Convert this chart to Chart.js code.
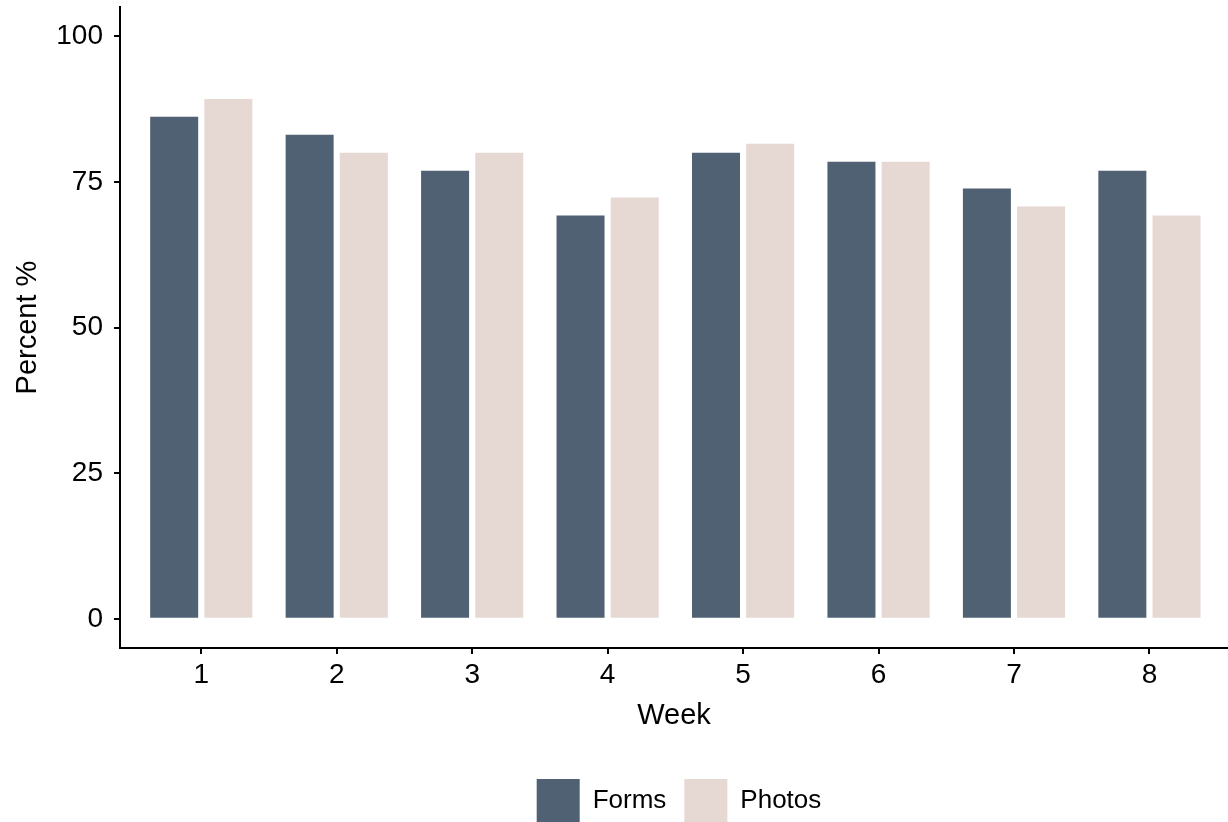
<!DOCTYPE html>
<html>
<head>
<meta charset="utf-8">
<script src="https://cdn.jsdelivr.net/npm/chart.js@4/dist/chart.umd.min.js"></script>
<style>
  html, body { margin: 0; padding: 0; background: #fff; }
  canvas { display: block; }
</style>
</head>
<body>
<canvas id="weekChart" width="1228" height="822"></canvas>
<script>
// weeks on the x axis and percent per series
const weeks = [1, 2, 3, 4, 5, 6, 7, 8];
const forms = [86.15, 83.08, 76.92, 69.23, 80.00, 78.46, 73.85, 76.92];
const photos = [89.23, 80.00, 80.00, 72.31, 81.54, 78.46, 70.77, 69.23];
const yTicks = [0, 25, 50, 75, 100];

const FONT = '"Liberation Sans", Arial, Helvetica, sans-serif';

// ggplot centres the legend under the panel, not the whole canvas
const shiftLegend = {
    id: 'shiftLegend',
    afterLayout(chart) {
        const lg = chart.legend;
        if (!lg) return;
        lg.left += 65;
        lg.right += 65;
    }
};

const ctx = document.getElementById('weekChart').getContext('2d');
new Chart(ctx, {
    type: 'bar',
    data: {
        datasets: [{
            label: 'Forms',
            data: weeks.map((w, i) => ({ x: w, y: forms[i] })),
            backgroundColor: '#4F6172'
        }, {
            label: 'Photos',
            data: weeks.map((w, i) => ({ x: w, y: photos[i] })),
            backgroundColor: '#E6D8D3'
        }]
    },
    plugins: [shiftLegend],
    options: {
        responsive: false,
        animation: false,
        devicePixelRatio: 1,
        categoryPercentage: 0.8,
        barPercentage: 0.886,
        layout: { padding: { left: 0, right: 0, top: 7, bottom: -10 } },
        plugins: {
            tooltip: { enabled: false },
            legend: {
                position: 'bottom',
                labels: {
                    boxWidth: 43,
                    boxHeight: 43,
                    padding: 18,
                    color: '#000',
                    font: { family: FONT, size: 26 }
                }
            }
        },
        scales: {
            x: {
                type: 'linear',
                offset: false,
                min: 0.4,
                max: 8.58,
                afterBuildTicks: s => { s.ticks = weeks.map(v => ({ value: v })); },
                afterFit: s => { s.height = 113; s.paddingLeft = 0; s.paddingRight = 0; },
                grid: { display: true, offset: false, drawOnChartArea: false, drawTicks: true, tickLength: 6, color: '#000', lineWidth: 2 },
                border: { display: true, color: '#000', width: 2 },
                ticks: { color: '#000', padding: 4, font: { family: FONT, size: 28 }, maxRotation: 0 },
                title: { display: true, text: 'Week', color: '#000', font: { family: FONT, size: 29 }, padding: { top: 0, bottom: 28 } }
            },
            y: {
                min: -5,
                max: 105,
                afterBuildTicks: s => { s.ticks = yTicks.map(v => ({ value: v })); },
                afterFit: s => { s.width = 120; s.paddingTop = 0; s.paddingBottom = 0; },
                grid: { display: true, drawOnChartArea: false, drawTicks: true, tickLength: 6, color: '#000', lineWidth: 2 },
                border: { display: true, color: '#000', width: 2 },
                ticks: { color: '#000', padding: 11, font: { family: FONT, size: 28 } },
                title: { display: true, text: 'Percent %', color: '#000', font: { family: FONT, size: 29 }, padding: { top: 11, bottom: 0 } }
            }
        }
    }
});
</script>
</body>
</html>
